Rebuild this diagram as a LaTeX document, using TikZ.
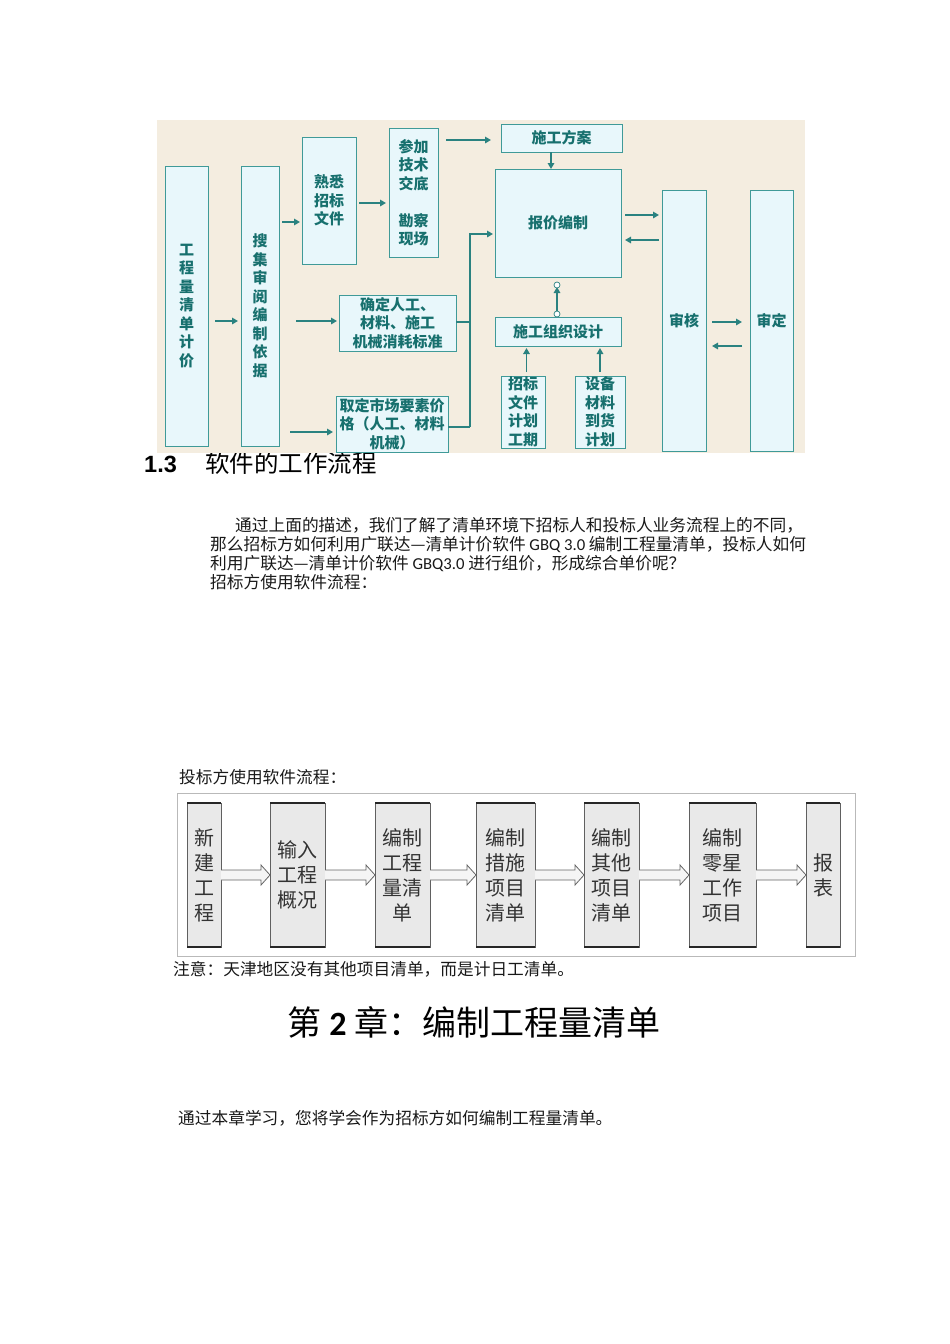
\documentclass[tikz,border=0pt]{standalone}
\usepackage{fontspec}
\setmainfont{Liberation Serif}
\newfontfamily\cjk{Noto Sans CJK SC}
\newfontfamily\lat{Carlito}
\newfontfamily\hd{Liberation Sans}
\usetikzlibrary{arrows.meta,calc}
\definecolor{bgc}{HTML}{F4EDE0}
\definecolor{tline}{HTML}{3F9A98}
\definecolor{tfill}{HTML}{E8F7FB}
\definecolor{ttext}{HTML}{17706E}
\definecolor{tarrow}{HTML}{2A8280}
\definecolor{gfill}{HTML}{E9E9E9}
\definecolor{gtext}{HTML}{333333}
\tikzset{
  tb/.style={draw=tline, fill=tfill, line width=0.9pt, inner sep=0pt, outer sep=0pt,
    text=ttext, align=center, font=\cjk\bfseries\fontsize{15}{18.5}\selectfont},
  ta/.style={draw=tarrow, line width=1.8pt, -{Triangle[length=6pt,width=6.5pt]}},
  tl/.style={draw=tarrow, line width=1.8pt},
  gb/.style={draw=gray!75!black, fill=gfill, line width=1pt, inner sep=0pt, outer sep=0pt,
    text=gtext, align=center, font=\cjk\fontsize{20}{25}\selectfont},
  blkarrow/.style={draw=gray!80!black, fill=gray!8, line width=0.8pt},
  txt/.style={anchor=base west, inner sep=0pt, font=\cjk\fontsize{16.7}{19}\selectfont, text=black!90}
}
\newcommand\blockarr[2]{%
  \draw[blkarrow] let \p1=(#1.east), \p2=(#2.west) in
    (\x1,\y1+5pt) -- (\x2-9pt,\y1+5pt) -- (\x2-9pt,\y1+10pt) -- (\x2,\y1)
    -- (\x2-9pt,\y1-10pt) -- (\x2-9pt,\y1-5pt) -- (\x1,\y1-5pt);}
\begin{document}
\begin{tikzpicture}[x=1pt,y=-1pt]
\useasboundingbox (0,0) rectangle (950,1344);
\fill[white] (0,0) rectangle (950,1344);

% heading (partly covered by the picture)
\node[anchor=base west, inner sep=0pt, font=\hd\bfseries\fontsize{23.5}{25}\selectfont] (h1) at (144,472) {1.3};
\node[anchor=base west, inner sep=0pt, font=\cjk\fontsize{24.5}{26}\selectfont] (h2) at (205,472) {软件的工作流程};

% picture background
\fill[bgc] (157,120) rectangle (805,453);

% top flow boxes
\node[tb, minimum width=43, minimum height=280] (gc) at (186.5,306) {工\\程\\量\\清\\单\\计\\价};
\node[tb, minimum width=38, minimum height=280] (sj) at (260,306) {搜\\集\\审\\阅\\编\\制\\依\\据};
\node[tb, minimum width=54, minimum height=127] (sx) at (329,200.5) {熟悉\\招标\\文件};
\node[tb, minimum width=49, minimum height=129] (cj) at (413.5,192.5) {参加\\技术\\交底\\\mbox{}\\勘察\\现场};
\node[tb, minimum width=121, minimum height=28] (fa) at (561.5,138) {施工方案};
\node[tb, minimum width=126, minimum height=108] (bj) at (558,223) {报价编制};
\node[tb, minimum width=117, minimum height=56] (qd) at (397.5,323) {确定人工、\\材料、施工\\机械消耗标准};
\node[tb, minimum width=112, minimum height=56] (qs) at (392,424) {取定市场要素价\\格（人工、材料\\机械）};
\node[tb, minimum width=126, minimum height=29] (sg) at (558,331.5) {施工组织设计};
\node[tb, minimum width=44, minimum height=72] (zb) at (523,412) {招标\\文件\\计划\\工期};
\node[tb, minimum width=50, minimum height=72] (sb) at (600,412) {设备\\材料\\到货\\计划};
\node[tb, minimum width=44, minimum height=261] (sh) at (684,320.5) {审核};
\node[tb, minimum width=43, minimum height=261] (sd) at (771.5,320.5) {审定};

% top flow connectors
\draw[ta, shorten <=7pt, shorten >=3pt] (gc.east |- 0,321) -- (sj.west |- 0,321);
\draw[ta, shorten <=3pt, shorten >=2pt] (sj.east |- 0,222) -- (sx.west |- 0,222);
\draw[ta, shorten <=17pt, shorten >=2pt] (sj.east |- 0,321) -- (qd.west |- 0,321);
\draw[ta, shorten <=11pt, shorten >=3pt] (sj.east |- 0,432) -- (qs.west |- 0,432);
\draw[ta, shorten <=3pt, shorten >=3pt] (sx.east |- 0,203) -- (cj.west |- 0,203);
\draw[ta, shorten <=8pt, shorten >=10pt] (cj.east |- 0,140) -- (fa.west |- 0,140);
\draw[ta] (fa.south -| 551,0) -- (bj.north -| 551,0);
\coordinate (br) at (470,234);
\draw[tl] (qd.east |- 0,322) -- (br |- 0,322);
\draw[tl] (qs.east |- 0,427) -- (br |- 0,427);
\draw[tl] (br |- 0,427) -- (br);
\draw[ta, shorten >=2pt] ([xshift=-0.9pt]br) -- (bj.west |- br);
\draw[ta, shorten <=4pt, shorten >=3pt] (bj.east |- 0,215) -- (sh.west |- 0,215);
\draw[ta, shorten <=3pt, shorten >=4pt] (sh.west |- 0,240) -- (bj.east |- 0,240);
\coordinate (c1) at ([xshift=-1pt,yshift=3pt]sg.north);
\coordinate (c2) at ([xshift=-1pt,yshift=-8pt]bj.south);
\draw[ta, shorten >=2pt] (c1) -- (c2);
\draw[tarrow, fill=white, line width=0.7pt] (c1) circle (3pt) (c2) circle (3pt);
\draw[ta, shorten <=4pt, shorten >=2pt] ([xshift=3.5pt]zb.north) -- ([xshift=3.5pt]zb.north |- sg.south);
\draw[ta, shorten <=4pt, shorten >=2pt] (sb.north) -- (sb.north |- sg.south);
\draw[ta, shorten <=6pt, shorten >=8pt] (sh.east |- 0,322) -- (sd.west |- 0,322);
\draw[ta, shorten <=8pt, shorten >=6pt] (sd.west |- 0,346) -- (sh.east |- 0,346);

% paragraph
\node[txt] (p1) at (235,531) {通过上面的描述，我们了解了清单环境下招标人和投标人业务流程上的不同，};
\node[txt] (p2) at (210,550) {那么招标方如何利用广联达—清单计价软件 {\lat GBQ 3.0} 编制工程量清单，投标人如何};
\node[txt] (p3) at (210,569) {利用广联达—清单计价软件 {\lat GBQ3.0} 进行组价，形成综合单价呢？};
\node[txt] (p4) at (210,588) {招标方使用软件流程：};

\node[txt] (p5) at (179,783) {投标方使用软件流程：};

% bottom flow
\draw[gray!55, line width=1pt] (177,793) rectangle (855,956);
\node[gb, minimum width=34, minimum height=144] (b1) at (204,875) {新\\建\\工\\程};
\node[gb, minimum width=55, minimum height=144] (b2) at (297.5,875) {输入\\工程\\概况};
\node[gb, minimum width=55, minimum height=144] (b3) at (402.5,875) {编制\\工程\\量清\\单};
\node[gb, minimum width=59, minimum height=144] (b4) at (505.5,875) {编制\\措施\\项目\\清单};
\node[gb, minimum width=55, minimum height=144] (b5) at (611.5,875) {编制\\其他\\项目\\清单};
\node[gb, minimum width=67, minimum height=144] (b6) at (722.5,875) {编制\\零星\\工作\\项目};
\node[gb, minimum width=34, minimum height=144] (b7) at (823,875) {报\\表};
\foreach \n in {b1,b2,b3,b4,b5,b6,b7}{
  \draw[black!85, line width=2pt] (\n.north west) -- (\n.north east);
  \draw[black!85, line width=2pt] (\n.south west) -- (\n.south east);
}
\blockarr{b1}{b2}
\blockarr{b2}{b3}
\blockarr{b3}{b4}
\blockarr{b4}{b5}
\blockarr{b5}{b6}
\blockarr{b6}{b7}

\node[txt] (p6) at (173,975) {注意：天津地区没有其他项目清单，而是计日工清单。};

% chapter
\node[anchor=base, inner sep=0pt, font=\cjk\fontsize{34}{38}\selectfont] (ch) at (474,1035) {第 {\lat\bfseries 2} 章：编制工程量清单};

\node[txt] (p7) at (178,1124) {通过本章学习，您将学会作为招标方如何编制工程量清单。};
\end{tikzpicture}
\end{document}
